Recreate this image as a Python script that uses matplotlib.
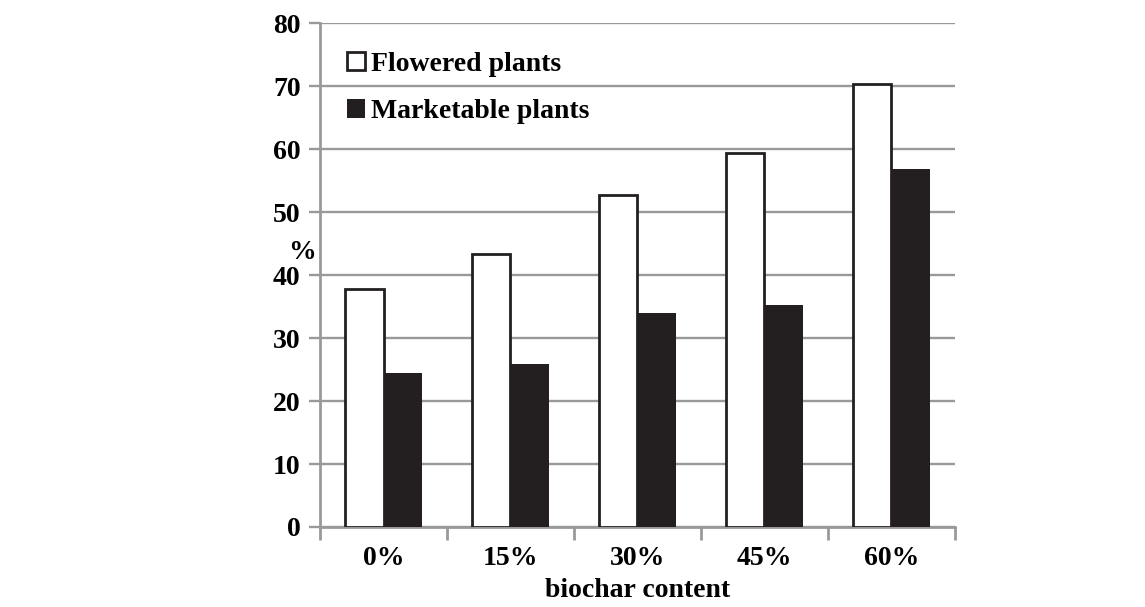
import numpy as np
import matplotlib.pyplot as plt

# data
categories = ['0%', '15%', '30%', '45%', '60%']
flowered = [37.8, 43.3, 52.7, 59.4, 70.3]
marketable = [24.4, 25.9, 34.0, 35.2, 56.8]

plt.rcParams['font.family'] = ['Liberation Serif', 'DejaVu Serif']
plt.rcParams['font.weight'] = 'bold'

grey = '#999999'
dark = '#231f20'

fig = plt.figure(figsize=(11.45, 6.07), dpi=100)
ax = fig.add_axes([0.2795, 0.1318, 0.5545, 0.8302])

x = np.arange(len(categories))
w = 0.3
ax.bar(x - w / 2, flowered, w, color='white', edgecolor=dark, linewidth=2,
       label='Flowered plants', zorder=3)
ax.bar(x + w / 2, marketable, w, color=dark, edgecolor=dark, linewidth=0,
       label='Marketable plants', zorder=3)

ax.set_xlim(-0.5, len(categories) - 0.5)
ax.set_ylim(0, 80)
ax.set_yticks(range(0, 81, 10))
ax.yaxis.grid(True, color=grey, linewidth=1.7, zorder=0)
ax.set_axisbelow(True)

ax.set_xticks(x)
ax.set_xticklabels(categories)
ax.set_xticks(np.arange(-0.5, len(categories)), minor=True)
ax.tick_params(axis='x', which='major', length=0, pad=14, labelsize=20)
ax.tick_params(axis='x', which='minor', length=9, width=2, color=grey, direction='out')
ax.tick_params(axis='y', length=8, width=1.7, color=grey, labelsize=20, pad=6)

for side in ['top', 'right']:
    ax.spines[side].set_visible(False)
for side in ['left', 'bottom']:
    ax.spines[side].set_color(grey)
    ax.spines[side].set_linewidth(2)

ax.set_xlabel('biochar content', fontsize=20, fontweight='bold', labelpad=5)
ax.set_ylabel('%', fontsize=20, fontweight='bold', rotation=0, va='center', ha='center')
ax.yaxis.set_label_coords(-0.028, 0.545)

leg = ax.legend(loc='upper left', bbox_to_anchor=(0.025, 0.965), frameon=False,
                fontsize=20, handlelength=0.65, handleheight=0.65, handletextpad=0.2,
                labelspacing=0.8, borderaxespad=0)

plt.savefig('out.png', dpi=100)
